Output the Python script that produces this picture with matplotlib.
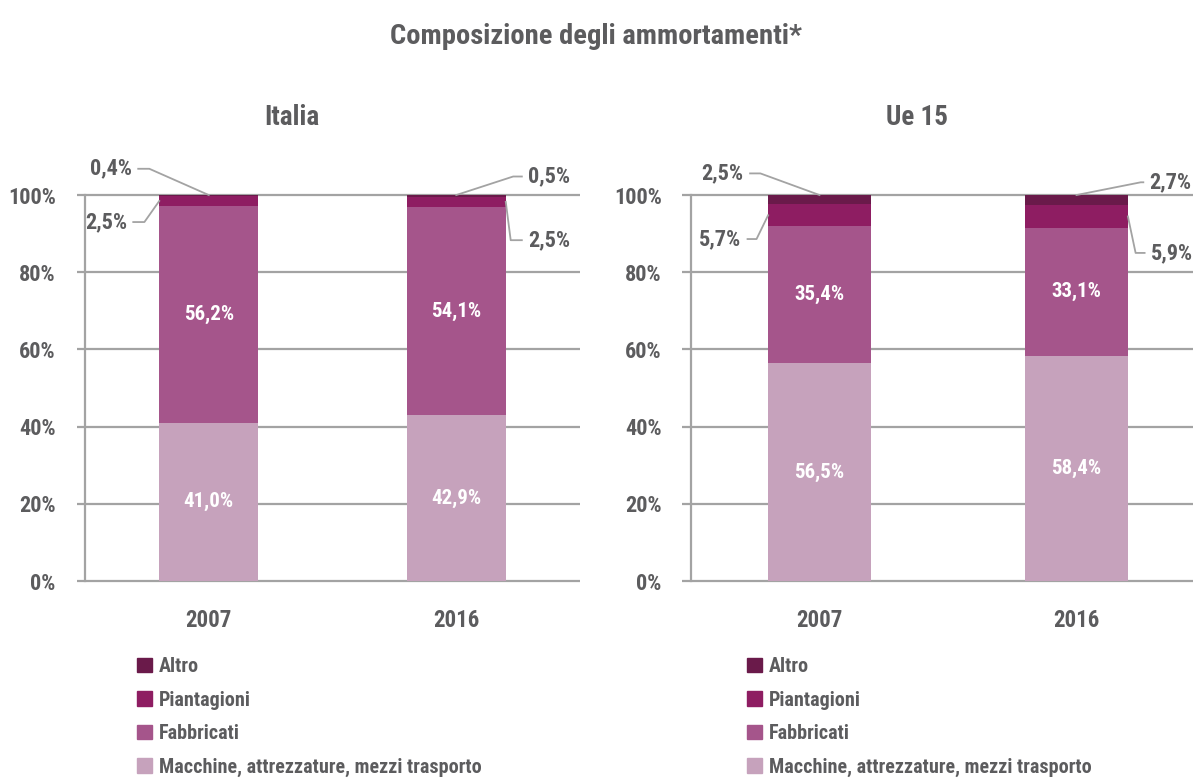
import matplotlib
matplotlib.use('Agg')
from matplotlib import pyplot as plt
from matplotlib import font_manager
from matplotlib.patches import Patch

# Composizione degli ammortamenti (%), Italia vs Ue 15
anni = ['2007', '2016']
categorie = ['Macchine, attrezzature, mezzi trasporto', 'Fabbricati', 'Piantagioni', 'Altro']
colori = ['#c6a2bc', '#a5558b', '#8e1d62', '#6a1a4a']

italia = {
    'Macchine, attrezzature, mezzi trasporto': [41.0, 42.9],
    'Fabbricati': [56.2, 54.1],
    'Piantagioni': [2.5, 2.5],
    'Altro': [0.4, 0.5],
}
ue15 = {
    'Macchine, attrezzature, mezzi trasporto': [56.5, 58.4],
    'Fabbricati': [35.4, 33.1],
    'Piantagioni': [5.7, 5.9],
    'Altro': [2.5, 2.7],
}

GRIGIO = '#5c5c5e'
LINEA = '#a3a3a3'

# carattere stretto se disponibile
disponibili = {f.name for f in font_manager.fontManager.ttflist}
stretti = [n for n in ['Roboto Condensed', 'Liberation Sans Narrow', 'Open Sans Condensed',
                       'DejaVu Sans Condensed'] if n in disponibili]
plt.rcParams['font.family'] = stretti + ['DejaVu Sans']
plt.rcParams['font.stretch'] = 'condensed'
plt.rcParams['font.weight'] = 'bold'
K = 1.0 if stretti else 0.82   # riduzione se resta solo il carattere normale


def fmt(v):
    return f'{v:.1f}'.replace('.', ',') + '%'


def pannello(ax, dati, titolo, xtitolo, etichette_esterne):
    x = list(range(len(anni)))
    base = [0.0] * len(anni)
    for cat, col in zip(categorie, colori):
        vals = dati[cat]
        ax.bar(x, vals, bottom=base, width=0.4, color=col, zorder=3)
        if cat in ('Macchine, attrezzature, mezzi trasporto', 'Fabbricati'):
            for xi, b, v in zip(x, base, vals):
                ax.text(xi, b + v / 2, fmt(v), ha='center', va='center',
                        color='white', fontsize=15 * K, zorder=5)
        base = [b + v for b, v in zip(base, vals)]

    ax.set_xlim(-0.5, 1.5)
    ax.set_ylim(0, 100)
    ax.hlines([0, 20, 40, 60, 80, 100], -0.017, 1, transform=ax.get_yaxis_transform(),
              color=LINEA, lw=1.6, clip_on=False, zorder=1)
    for s in ax.spines.values():
        s.set_visible(False)
    ax.spines['left'].set_visible(True)
    ax.spines['left'].set_color(LINEA)
    ax.spines['left'].set_linewidth(1.6)
    ax.set_yticks([0, 20, 40, 60, 80, 100])
    ax.set_yticklabels([f'{t}%' for t in [0, 20, 40, 60, 80, 100]])
    ax.set_xticks(x)
    ax.set_xticklabels(anni)
    ax.tick_params(axis='y', length=0, pad=21, labelsize=16 * K, labelcolor=GRIGIO)
    ax.tick_params(axis='x', length=0, pad=20, labelsize=16.5 * K, labelcolor=GRIGIO)
    ax.text(xtitolo, 1.2, titolo, transform=ax.transAxes, ha='center', va='center',
            fontsize=19.5 * K, color=GRIGIO, fontweight='bold')

    # valori piccoli fuori dalle barre, con linea di richiamo
    for (i, cat, tx, ty, gomito, ha) in etichette_esterne:
        v = dati[cat][i]
        cima = sum(dati[c][i] for c in categorie[:categorie.index(cat) + 1])
        if cat == 'Altro':
            xy = (i, min(cima, 100))
        else:
            lato = -0.2 if ha == 'right' else 0.2
            xy = (i + lato, cima - v / 2)
        ax.text(tx, ty, fmt(v), ha=ha, va='center', fontsize=16 * K, color=GRIGIO,
                clip_on=False)
        inizio = tx + (0.025 if ha == 'right' else -0.025)
        ax.plot([inizio, gomito, xy[0]], [ty, ty, xy[1]], color=LINEA, lw=1.3,
                clip_on=False, zorder=4)


fig = plt.figure(figsize=(11.93, 7.82), dpi=100)
ax1 = fig.add_axes([85 / 1193, 0.257, 495 / 1193, 0.4936])
ax2 = fig.add_axes([691 / 1193, 0.257, 514 / 1193, 0.4936])

pannello(ax1, italia, 'Italia', 0.418, [
    (0, 'Altro', -0.31, 106.8, -0.24, 'right'),
    (0, 'Piantagioni', -0.33, 93.0, -0.26, 'right'),
    (1, 'Altro', 1.29, 104.8, 1.23, 'left'),
    (1, 'Piantagioni', 1.29, 88.3, 1.22, 'left'),
])
pannello(ax2, ue15, 'Ue 15', 0.44, [
    (0, 'Altro', -0.295, 105.6, -0.23, 'right'),
    (0, 'Piantagioni', -0.305, 88.6, -0.245, 'right'),
    (1, 'Altro', 1.285, 103.3, 1.25, 'left'),
    (1, 'Piantagioni', 1.29, 85.0, 1.23, 'left'),
])

fig.text(0.5, 1 - 36 / 782, 'Composizione degli ammortamenti*', ha='center', va='center',
         fontsize=20.5 * K, color=GRIGIO, fontweight='bold')

maniglie = [Patch(color=c) for c in colori][::-1]
nomi = categorie[::-1]
for x0 in (137 / 1193, 747 / 1193):
    fig.legend(maniglie, nomi, loc='upper left', bbox_to_anchor=(x0, 1 - 657 / 782),
               frameon=False, fontsize=14.5 * K, handlelength=0.75, handleheight=0.75,
               handletextpad=0.35, labelspacing=0.72, borderpad=0, borderaxespad=0,
               labelcolor=GRIGIO)

fig.savefig('out.png', dpi=100)
